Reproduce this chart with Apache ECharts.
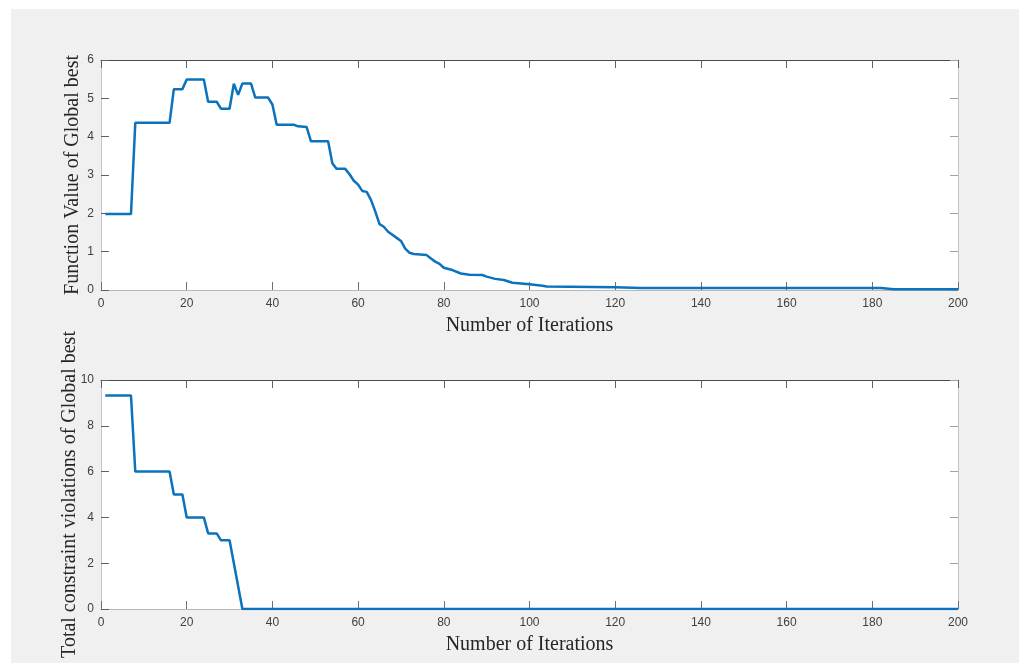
<!DOCTYPE html>
<html>
<head>
<meta charset="utf-8">
<script src="https://cdn.jsdelivr.net/npm/echarts@6/dist/echarts.min.js"></script>
<style>
    html, body { margin: 0; padding: 0; background: #fff; }
    #bg { position: absolute; left: 11px; top: 9px; width: 1008px; height: 654px; background: #f0f0f0; }
    #main { position: absolute; left: 0; top: 0; width: 1019px; height: 663px; }
</style>
</head>
<body>
<div id="bg"></div>
<div id="main"></div>
<script>
// top plot: function value of global best
var iterTop = [1, 7, 8, 16, 17, 19, 20, 24, 25, 27, 28, 30, 31, 32, 33, 35, 36, 39, 40, 41,
    45, 46, 48, 49, 53, 54, 55, 57, 58, 59, 60, 61, 62, 63, 64, 65, 66, 67, 68, 69,
    70, 71, 72, 73, 76, 77, 78, 79, 80, 82, 84, 86, 89, 90, 92, 94, 96, 100, 103, 104,
    120, 126, 182, 185, 200];
var fvalTop = [1.98, 1.98, 4.36, 4.36, 5.24, 5.24, 5.49, 5.49, 4.91, 4.91, 4.73, 4.73, 5.38, 5.09, 5.39, 5.39, 5.02, 5.02, 4.84, 4.31,
    4.31, 4.27, 4.25, 3.88, 3.88, 3.30, 3.16, 3.16, 3.02, 2.85, 2.75, 2.58, 2.56, 2.35, 2.05, 1.72, 1.65, 1.52, 1.44, 1.36,
    1.28, 1.08, 0.97, 0.94, 0.91, 0.82, 0.74, 0.68, 0.58, 0.52, 0.43, 0.40, 0.39, 0.35, 0.29, 0.26, 0.19, 0.15, 0.11, 0.09,
    0.07, 0.05, 0.05, 0.02, 0.02];

// bottom plot: total constraint violations
var iterBot = [1, 7, 8, 16, 17, 19, 20, 24, 25, 27, 28, 30, 33, 200];
var violBot = [9.32, 9.32, 6.0, 6.0, 5.0, 5.0, 4.0, 4.0, 3.3, 3.3, 3.0, 3.0, 0, 0];

var xTicks = [0, 20, 40, 60, 80, 100, 120, 140, 160, 180, 200];

var chart = echarts.init(document.getElementById('main'));

function pairs(xs, ys) {
    var out = [];
    for (var i = 0; i < xs.length; i++) out.push([xs[i], ys[i]]);
    return out;
}

var labelStyle = { color: '#404040', fontSize: 12, fontFamily: 'Liberation Sans' };
var nameStyle = { color: '#262626', fontSize: 20, fontFamily: 'Liberation Serif' };

function bottomX(idx) {
    return {
        type: 'value', gridIndex: idx, position: 'bottom',
        min: xTicks[0], max: xTicks[xTicks.length - 1], interval: 20,
        name: 'Number of Iterations', nameLocation: 'middle', nameGap: 26,
        nameTextStyle: nameStyle,
        axisLine: { show: true, onZero: false, lineStyle: { color: '#b8b8b8', width: 1 } },
        axisTick: { show: true, inside: true, length: 8, lineStyle: { color: '#707070' } },
        axisLabel: Object.assign({ margin: 8 }, labelStyle),
        splitLine: { show: false }
    };
}
function topX(idx) {
    return {
        type: 'value', gridIndex: idx, position: 'top',
        min: 0, max: 200, interval: 20,
        axisLine: { show: true, onZero: false, lineStyle: { color: '#4a4a4a', width: 1 } },
        axisTick: { show: true, inside: true, length: 8, lineStyle: { color: '#606060' } },
        axisLabel: { show: false },
        splitLine: { show: false }
    };
}
function leftY(idx, max, step, name, gap) {
    return {
        type: 'value', gridIndex: idx, position: 'left',
        min: 0, max: max, interval: step,
        name: name, nameLocation: 'middle', nameGap: gap, nameRotate: 90,
        nameMoveOverlap: false,
        nameTextStyle: nameStyle,
        axisLine: { show: true, onZero: false, lineStyle: { color: '#c4c4c4', width: 1 } },
        axisTick: { show: true, inside: true, length: 8, lineStyle: { color: '#606060' } },
        axisLabel: Object.assign({ margin: 7 }, labelStyle),
        splitLine: { show: false }
    };
}
function rightY(idx, max, step) {
    return {
        type: 'value', gridIndex: idx, position: 'right',
        min: 0, max: max, interval: step,
        axisLine: { show: true, onZero: false, lineStyle: { color: '#c4c4c4', width: 1 } },
        axisTick: { show: true, inside: true, length: 8, lineStyle: { color: '#a0a0a0' } },
        axisLabel: { show: false },
        splitLine: { show: false }
    };
}

chart.setOption({
    animation: false,
    backgroundColor: 'transparent',
    grid: [
        { left: 101, top: 60, width: 857, height: 230, show: true, backgroundColor: '#fff', borderWidth: 0 },
        { left: 101, top: 380, width: 857, height: 229, show: true, backgroundColor: '#fff', borderWidth: 0 }
    ],
    xAxis: [bottomX(0), topX(0), bottomX(1), topX(1)],
    yAxis: [
        leftY(0, 6, 1, 'Function Value of Global best', 18),
        rightY(0, 6, 1),
        leftY(1, 10, 2, 'Total constraint violations of Global best', 21),
        rightY(1, 10, 2)
    ],
    series: [
        {
            type: 'line', xAxisIndex: 0, yAxisIndex: 0,
            data: pairs(iterTop, fvalTop),
            showSymbol: false, symbol: 'none',
            lineStyle: { color: '#0b72bd', width: 2.5 }
        },
        {
            type: 'line', xAxisIndex: 2, yAxisIndex: 2,
            data: pairs(iterBot, violBot),
            showSymbol: false, symbol: 'none',
            lineStyle: { color: '#0b72bd', width: 2.5 }
        }
    ]
});
</script>
</body>
</html>
